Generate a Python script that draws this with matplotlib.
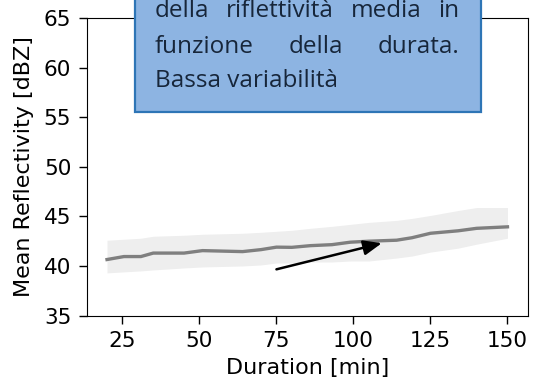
import matplotlib
matplotlib.use("Agg")
import matplotlib.pyplot as plt
from matplotlib.patches import Rectangle

# Data
duration = [20, 25.5, 31, 35, 45, 51, 64, 70, 75, 80, 86, 93, 99, 105, 114, 119, 125, 134, 140, 150]
mean_refl = [40.65, 40.95, 40.95, 41.3, 41.3, 41.55, 41.45, 41.65, 41.9, 41.88, 42.05, 42.15, 42.4, 42.5, 42.6, 42.85, 43.3, 43.55, 43.8, 43.95]
band_upper = [42.6, 42.7, 42.8, 43.0, 43.1, 43.2, 43.3, 43.4, 43.5, 43.6, 43.8, 44.0, 44.2, 44.4, 44.6, 44.8, 45.1, 45.6, 45.9, 45.9]
band_lower = [39.3, 39.4, 39.5, 39.6, 39.8, 39.9, 40.0, 40.1, 40.3, 40.3, 40.4, 40.4, 40.5, 40.5, 40.8, 41.0, 41.4, 41.8, 42.2, 42.8]
xticks = [25, 50, 75, 100, 125, 150]
yticks = [35, 40, 45, 50, 55, 60, 65]
arrow_tail = (75, 39.66)
arrow_head = (109.2, 42.3)
box_lines = [
    ["della", "riflettività", "media", "in"],
    ["funzione", "della", "durata."],
    ["Bassa variabilità"],
]

W, H = 539, 390
fig = plt.figure(figsize=(W / 100, H / 100), dpi=100)
ax = fig.add_axes([87 / W, 1 - 315.5 / H, (527.5 - 87) / W, (315.5 - 18.3) / H])

ax.fill_between(duration, band_lower, band_upper, color="#eeeeee", lw=0)
ax.plot(duration, mean_refl, color="#7f7f7f", lw=2.4)
ax.annotate("", xy=arrow_head, xytext=arrow_tail,
            arrowprops=dict(arrowstyle="-|>,head_length=1.1,head_width=0.45",
                            color="black", lw=1.8, shrinkA=0, shrinkB=0))

ax.set_xlim(13.5, 156.5)
ax.set_ylim(35, 65)
ax.set_xticks(xticks)
ax.set_yticks(yticks)
ax.tick_params(labelsize=15.5, length=5.8, width=1)
ax.tick_params(axis="x", pad=5.5)
ax.tick_params(axis="y", pad=5.5)
ax.set_xlabel("Duration [min]", fontsize=16, labelpad=5)
ax.set_ylabel("Mean Reflectivity [dBZ]", fontsize=16, labelpad=7)

# Blue text box (overlay, cut off at the top of the image)
def fx(px):
    return px / W

def fy(py):
    return 1 - py / H

box = Rectangle((fx(135), fy(112)), fx(481) - fx(135), fy(-40) - fy(112),
                transform=fig.transFigure, facecolor="#8db4e2", edgecolor="#2e75b6",
                lw=1.6, zorder=10, clip_on=False)
fig.patches.append(box)

tcol = "#17263a"
fs = 17.5
fam = "Open Sans"
left_px, right_px = 155, 459
baselines = [17, 53, 87]
renderer = fig.canvas.get_renderer()
for line, ypx in zip(box_lines, baselines):
    if len(line) == 1:
        fig.text(fx(left_px), fy(ypx), line[0], ha="left", va="baseline",
                 fontsize=fs, family=fam, color=tcol, zorder=11)
        continue
    texts = [fig.text(0, fy(ypx), w, ha="left", va="baseline", fontsize=fs,
                      family=fam, color=tcol, zorder=11) for w in line]
    widths = [t.get_window_extent(renderer).width for t in texts]
    gap = (right_px - left_px - sum(widths)) / (len(line) - 1)
    x = left_px
    for t, wdt in zip(texts, widths):
        t.set_x(fx(x))
        x += wdt + gap

fig.savefig("out.png", dpi=100)
